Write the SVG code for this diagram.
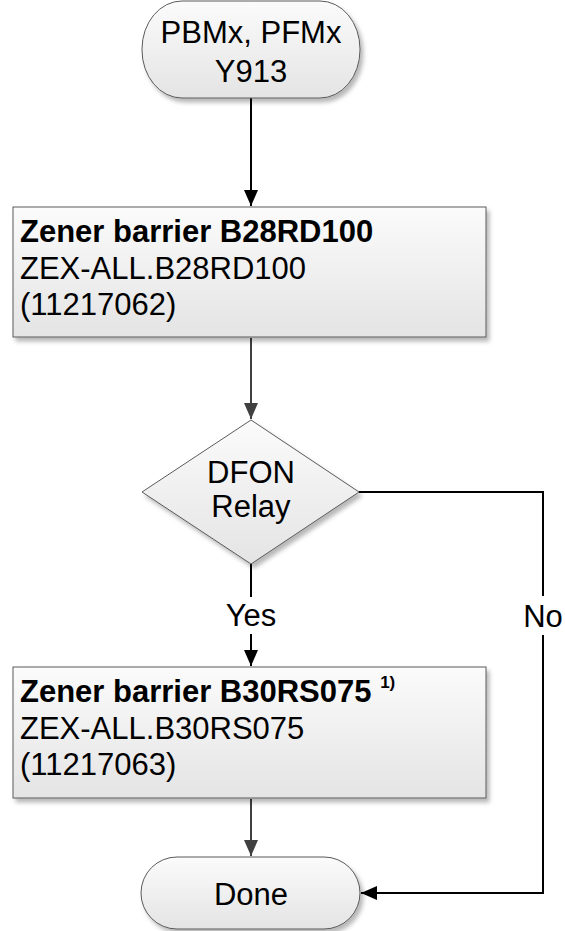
<svg xmlns="http://www.w3.org/2000/svg" width="565" height="931" viewBox="0 0 565 931">
  <style>
    .shape { stroke: #5a5a5a; stroke-width: 1; }
    .txt { font-family: "Liberation Sans", Arial, sans-serif; font-size: 31px; fill: #000; }
    .bold { font-weight: bold; }
    .sup { font-family: "Liberation Sans", Arial, sans-serif; font-size: 17px; font-weight: bold; fill: #000; }
    .conn { fill: none; stroke-width: 2; }
    .dark { stroke: #000; }
    .grey { stroke: #404040; }
  </style>
  <defs>
    <linearGradient id="fillGrad" x1="0" y1="0" x2="0" y2="1">
      <stop offset="0" stop-color="#fbfbfb"/>
      <stop offset="1" stop-color="#e4e4e4"/>
    </linearGradient>
    <filter id="shadow" x="-10%" y="-10%" width="125%" height="130%">
      <feGaussianBlur in="SourceAlpha" stdDeviation="2"/>
      <feOffset dx="3" dy="4" result="b"/>
      <feFlood flood-color="#000" flood-opacity="0.28"/>
      <feComposite in2="b" operator="in"/>
      <feMerge>
        <feMergeNode/>
        <feMergeNode in="SourceGraphic"/>
      </feMerge>
    </filter>
    <marker id="arrowBlack" viewBox="0 0 16 14" refX="16" refY="7" markerWidth="16" markerHeight="14" markerUnits="userSpaceOnUse" orient="auto">
      <path d="M0,0 L16,7 L0,14 Z" fill="#000"/>
    </marker>
    <marker id="arrowGrey" viewBox="0 0 16 14" refX="16" refY="7" markerWidth="16" markerHeight="14" markerUnits="userSpaceOnUse" orient="auto">
      <path d="M0,0 L16,7 L0,14 Z" fill="#404040"/>
    </marker>
  </defs>

  <!-- connectors -->
  <g id="connectors">
    <line class="conn dark" x1="251" y1="98" x2="251" y2="206" marker-end="url(#arrowBlack)"/>
    <line class="conn grey" x1="251" y1="338" x2="251" y2="419" marker-end="url(#arrowGrey)"/>
    <line class="conn dark" x1="251" y1="564" x2="251" y2="597"/>
    <line class="conn dark" x1="251" y1="634" x2="251" y2="666" marker-end="url(#arrowBlack)"/>
    <line class="conn grey" x1="251" y1="799" x2="251" y2="856" marker-end="url(#arrowGrey)"/>
    <polyline class="conn dark" points="359,492 543,492 543,596"/>
    <polyline class="conn dark" points="543,635 543,893 361,893" marker-end="url(#arrowBlack)"/>
    <text class="txt" x="251" y="626" text-anchor="middle">Yes</text>
    <text class="txt" x="543" y="627" text-anchor="middle">No</text>
  </g>

  <!-- start terminator -->
  <g id="start">
    <rect class="shape" x="142" y="1" width="218" height="97" rx="40" ry="48" fill="url(#fillGrad)" filter="url(#shadow)"/>
    <text class="txt" x="251" y="43" text-anchor="middle">PBMx, PFMx</text>
    <text class="txt" x="251" y="82" text-anchor="middle">Y913</text>
  </g>

  <!-- first barrier -->
  <g id="barrier1">
    <rect class="shape" x="13" y="207" width="473" height="130" fill="url(#fillGrad)" filter="url(#shadow)"/>
    <text class="txt bold" x="20" y="242">Zener barrier B28RD100</text>
    <text class="txt" x="20" y="279">ZEX-ALL.B28RD100</text>
    <text class="txt" x="20" y="315">(11217062)</text>
  </g>

  <!-- decision -->
  <g id="decision">
    <polygon class="shape" points="251,420 359,492 251,564 142,492" fill="url(#fillGrad)" filter="url(#shadow)"/>
    <text class="txt" x="251" y="483" text-anchor="middle">DFON</text>
    <text class="txt" x="251" y="517" text-anchor="middle">Relay</text>
  </g>

  <!-- second barrier -->
  <g id="barrier2">
    <rect class="shape" x="13" y="667" width="473" height="131" fill="url(#fillGrad)" filter="url(#shadow)"/>
    <text class="txt bold" x="20" y="702">Zener barrier B30RS075 <tspan class="sup" dy="-14">1)</tspan></text>
    <text class="txt" x="20" y="739">ZEX-ALL.B30RS075</text>
    <text class="txt" x="20" y="775">(11217063)</text>
  </g>

  <!-- end terminator -->
  <g id="done">
    <rect class="shape" x="141" y="857" width="219" height="72" rx="36" ry="36" fill="url(#fillGrad)" filter="url(#shadow)"/>
    <text class="txt" x="251" y="905" text-anchor="middle">Done</text>
  </g>
</svg>
